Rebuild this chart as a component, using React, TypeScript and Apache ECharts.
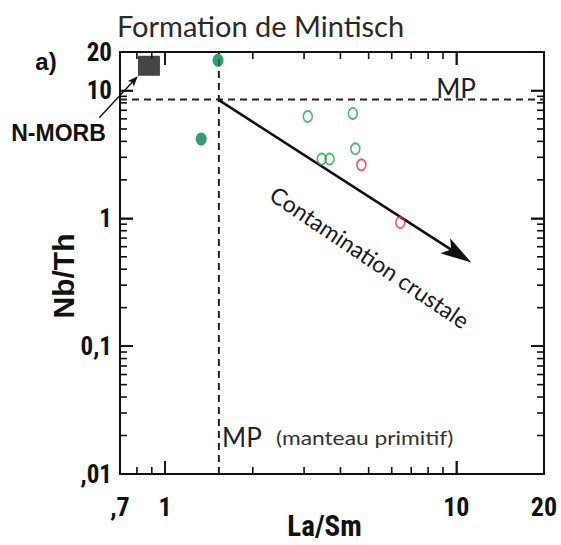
import { useEffect, useRef } from "react";
import * as echarts from "echarts";

// Axis ranges and tick labels
const X_MIN = 0.7;
const X_MAX = 20;
const Y_MIN = 0.01;
const Y_MAX = 20;
const xTickValues = [0.7, 1, 10, 20];
const xTickLabels = [",7", "1", "10", "20"];
const yTickValues = [0.01, 0.1, 1, 10, 20];
const yTickLabels = [",01", "0,1", "1", "10", "20"];
const xMajorTicks = [1, 10];
const yMajorTicks = [0.1, 1, 10];
const xMinorTicks = [0.8, 0.9, 2, 3, 4, 5, 6, 7, 8, 9];
const yMinorTicks = [
  0.02, 0.03, 0.04, 0.05, 0.06, 0.07, 0.08, 0.09,
  0.2, 0.3, 0.4, 0.5, 0.6, 0.7, 0.8, 0.9,
  2, 3, 4, 5, 6, 7, 8, 9,
];

// Reference compositions
const nmorbLaSm = [0.88];
const nmorbNbTh = [15.6];
const mpLaSm = [1.53]; // manteau primitif
const mpNbTh = [8.5];

// Samples
const filledGreenLaSm = [1.52, 1.33];
const filledGreenNbTh = [17.2, 4.17];
const openGreenLaSm = [3.09, 4.41, 3.45, 3.67, 4.5];
const openGreenNbTh = [6.27, 6.61, 2.91, 2.91, 3.5];
const openRedLaSm = [4.72, 6.42];
const openRedNbTh = [2.62, 0.927];

// Arrows: [x1, y1, x2, y2]
const contaminationArrow = [[1.53, 8.4, 11.26, 0.451]];
const nmorbPointer = [[0.594, 6.12, 0.805, 12.9]];

const zip = (xs: number[], ys: number[]) => xs.map((x, i) => [x, ys[i]]);

const lookup = (vals: number[], labels: string[]) => (v: number) => {
  let best = -1;
  let bd = Infinity;
  vals.forEach((t, i) => {
    const d = Math.abs(Math.log10(v) - Math.log10(t));
    if (d < bd) {
      bd = d;
      best = i;
    }
  });
  return bd < 0.01 ? labels[best] : "";
};

const COND = "'Roboto Condensed', 'Liberation Sans', Arial, sans-serif";
const BOLD = "'Liberation Sans', Arial, sans-serif";
const LIGHT = "Lato, 'Open Sans', sans-serif";
const INK = "#111";
const MAJ = 13;
const MIN = 7;

function arrowRender(headLen: number, headHalf: number, notch: number, lw: number) {
  return (_params: any, api: any) => {
    const p1 = api.coord([api.value(0), api.value(1)]);
    const p2 = api.coord([api.value(2), api.value(3)]);
    const dx = p2[0] - p1[0];
    const dy = p2[1] - p1[1];
    const L = Math.hypot(dx, dy);
    const ux = dx / L;
    const uy = dy / L;
    const nx = -uy;
    const ny = ux;
    const bx = p2[0] - ux * headLen;
    const by = p2[1] - uy * headLen;
    const cx = p2[0] - ux * notch;
    const cy = p2[1] - uy * notch;
    return {
      type: "group",
      children: [
        { type: "line", shape: { x1: p1[0], y1: p1[1], x2: cx, y2: cy }, style: { stroke: INK, lineWidth: lw } },
        {
          type: "polygon",
          shape: {
            points: [
              [p2[0], p2[1]],
              [bx + nx * headHalf, by + ny * headHalf],
              [cx, cy],
              [bx - nx * headHalf, by - ny * headHalf],
            ],
          },
          style: { fill: INK },
        },
      ],
    };
  };
}

// x ticks: item [value, length]; drawn on bottom and top frame
const xTickRender = (_p: any, api: any) => {
  const v = api.value(0);
  const len = api.value(2);
  const b = api.coord([v, Y_MIN]);
  const t = api.coord([v, Y_MAX]);
  const st = { stroke: INK, lineWidth: 1.6 };
  return {
    type: "group",
    children: [
      { type: "line", shape: { x1: b[0], y1: b[1], x2: b[0], y2: b[1] - len }, style: st },
      { type: "line", shape: { x1: t[0], y1: t[1], x2: t[0], y2: t[1] + len }, style: st },
    ],
  };
};

// y ticks: item [1, value, length]; drawn on left and right frame
const yTickRender = (_p: any, api: any) => {
  const v = api.value(1);
  const len = api.value(2);
  const l = api.coord([X_MIN, v]);
  const r = api.coord([X_MAX, v]);
  const st = { stroke: INK, lineWidth: 1.6 };
  return {
    type: "group",
    children: [
      { type: "line", shape: { x1: l[0], y1: l[1], x2: l[0] + len, y2: l[1] }, style: st },
      { type: "line", shape: { x1: r[0], y1: r[1], x2: r[0] - len, y2: r[1] }, style: st },
    ],
  };
};

// dashed reference lines of the primitive mantle
const mpRender = (_p: any, api: any) => {
  const vx = api.value(0);
  const vy = api.value(1);
  const a = api.coord([vx, Y_MIN]);
  const b = api.coord([vx, Y_MAX]);
  const c = api.coord([X_MIN, vy]);
  const d = api.coord([X_MAX, vy]);
  const st = { stroke: "#222", lineWidth: 2, lineDash: [7, 5] };
  return {
    type: "group",
    children: [
      { type: "line", shape: { x1: a[0], y1: a[1], x2: b[0], y2: b[1] }, style: st },
      { type: "line", shape: { x1: c[0], y1: c[1], x2: d[0], y2: d[1] }, style: st },
    ],
  };
};

export default function App() {
  const ref = useRef<HTMLDivElement>(null);
  useEffect(() => {
    document.body.style.margin = "0";
    if (!ref.current) return;
    const chart = echarts.init(ref.current, undefined, { renderer: "svg" });
    const axisLine = { show: true, onZero: false, lineStyle: { color: INK, width: 2 } };
    const tick = { show: true, inside: true, length: MAJ, lineStyle: { color: INK, width: 1.6 } };
    const option: any = {
      animation: false,
      backgroundColor: "#fff",
      grid: { left: 120, right: 17, top: 52, bottom: 71, outerBoundsMode: "none", containLabel: false },
      xAxis: [
        {
          type: "log",
          min: X_MIN,
          max: X_MAX,
          position: "bottom",
          axisLine,
          axisTick: tick,
          splitLine: { show: false },
          minorTick: { show: false },
          axisLabel: {
            margin: 20,
            formatter: lookup(xTickValues, xTickLabels),
            color: INK,
            fontFamily: COND,
            fontWeight: "bold",
            fontSize: 26,
          },
          name: "La/Sm",
          nameLocation: "middle",
          nameGap: 37,
          nameMoveOverlap: false,
          nameTextStyle: {
            color: INK,
            fontFamily: COND,
            fontWeight: "bold",
            fontSize: 29,
            padding: [0, 15, 0, 0],
          },
        },
        {
          type: "log",
          min: X_MIN,
          max: X_MAX,
          position: "top",
          axisLine,
          axisTick: tick,
          splitLine: { show: false },
          axisLabel: { show: false },
        },
      ],
      yAxis: [
        {
          type: "log",
          min: Y_MIN,
          max: Y_MAX,
          position: "left",
          axisLine,
          axisTick: tick,
          splitLine: { show: false },
          minorTick: { show: false },
          axisLabel: {
            margin: 8,
            formatter: lookup(yTickValues, yTickLabels),
            color: INK,
            fontFamily: COND,
            fontWeight: "bold",
            fontSize: 25,
          },
          name: "Nb/Th",
          nameLocation: "middle",
          nameGap: 42,
          nameMoveOverlap: false,
          nameTextStyle: {
            color: INK,
            fontFamily: BOLD,
            fontWeight: "bold",
            fontSize: 30,
            padding: [0, 26, 0, 0],
          },
        },
        {
          type: "log",
          min: Y_MIN,
          max: Y_MAX,
          position: "right",
          axisLine,
          axisTick: tick,
          splitLine: { show: false },
          axisLabel: { show: false },
        },
      ],
      series: [
        {
          type: "scatter",
          name: "N-MORB",
          data: zip(nmorbLaSm, nmorbNbTh),
          symbol: "rect",
          symbolSize: [22, 20],
          itemStyle: { color: "#161616" },
          z: 5,
        },
        {
          type: "custom",
          name: "MP (manteau primitif)",
          silent: true,
          clip: false,
          data: zip(mpLaSm, mpNbTh),
          renderItem: mpRender,
          z: 3,
        },
        {
          type: "custom",
          name: "Contamination crustale",
          silent: true,
          clip: false,
          encode: { x: [0, 2], y: [1, 3] },
          data: contaminationArrow,
          renderItem: arrowRender(31, 9, 24, 2.6),
          z: 4,
        },
        {
          type: "custom",
          name: "N-MORB pointer",
          silent: true,
          clip: false,
          encode: { x: [0, 2], y: [1, 3] },
          data: nmorbPointer,
          renderItem: arrowRender(10, 4, 8, 1.4),
          z: 4,
        },
        {
          type: "scatter",
          name: "filled green",
          data: zip(filledGreenLaSm, filledGreenNbTh),
          symbol: "circle",
          symbolSize: [11, 13],
          itemStyle: { color: "#00874a" },
          z: 6,
        },
        {
          type: "scatter",
          name: "open green",
          data: zip(openGreenLaSm, openGreenNbTh),
          symbol: "circle",
          symbolSize: [9, 11],
          itemStyle: { color: "transparent", borderColor: "#1fa54b", borderWidth: 1.7 },
          z: 6,
        },
        {
          type: "scatter",
          name: "open red",
          data: zip(openRedLaSm, openRedNbTh),
          symbol: "circle",
          symbolSize: [9, 11],
          itemStyle: { color: "transparent", borderColor: "#ec3339", borderWidth: 1.7 },
          z: 6,
        },
        {
          type: "custom",
          name: "x ticks",
          silent: true,
          clip: false,
          z: 12,
          data: [
            ...xMajorTicks.map((v) => [v, 1, MAJ]),
            ...xMinorTicks.map((v) => [v, 1, MIN]),
          ],
          renderItem: xTickRender,
        },
        {
          type: "custom",
          name: "y ticks",
          silent: true,
          clip: false,
          z: 12,
          data: [
            ...yMajorTicks.map((v) => [1, v, MAJ]),
            ...yMinorTicks.map((v) => [1, v, MIN]),
          ],
          renderItem: yTickRender,
        },
      ],
      graphic: [
        {
          type: "text",
          x: 260.5,
          y: 25,
          style: {
            text: "Formation de Mintisch",
            fontFamily: LIGHT,
            fontSize: 29,
            fill: "#2a2a2a",
            align: "center",
            verticalAlign: "middle",
          },
        },
        {
          type: "text",
          x: 46,
          y: 61,
          style: {
            text: "a)",
            fontFamily: BOLD,
            fontWeight: "bold",
            fontSize: 24,
            fill: INK,
            align: "center",
            verticalAlign: "middle",
          },
        },
        {
          type: "text",
          x: 58.5,
          y: 133,
          style: {
            text: "N-MORB",
            fontFamily: BOLD,
            fontWeight: "bold",
            fontSize: 23,
            fill: INK,
            align: "center",
            verticalAlign: "middle",
          },
        },
        {
          type: "text",
          x: 456,
          y: 88,
          style: {
            text: "MP",
            fontFamily: LIGHT,
            fontSize: 26,
            fill: "#222",
            align: "center",
            verticalAlign: "middle",
          },
        },
        {
          type: "text",
          x: 222,
          y: 437,
          style: {
            text: "MP",
            fontFamily: LIGHT,
            fontSize: 26,
            fill: "#222",
            align: "left",
            verticalAlign: "middle",
          },
        },
        {
          type: "text",
          x: 276,
          y: 437,
          scaleX: 1.2,
          style: {
            text: "(manteau primitif)",
            fontFamily: LIGHT,
            fontSize: 19,
            fill: "#333",
            align: "left",
            verticalAlign: "middle",
          },
        },
        {
          type: "text",
          x: 370,
          y: 257,
          rotation: (-34 * Math.PI) / 180,
          style: {
            text: "Contamination crustale",
            fontFamily: LIGHT,
            fontSize: 23,
            fill: "#1a1a1a",
            align: "center",
            verticalAlign: "middle",
          },
        },
      ],
    };
    chart.setOption(option);
    return () => chart.dispose();
  }, []);
  return <div ref={ref} style={{ width: 561, height: 545, background: "#fff" }} />;
}
